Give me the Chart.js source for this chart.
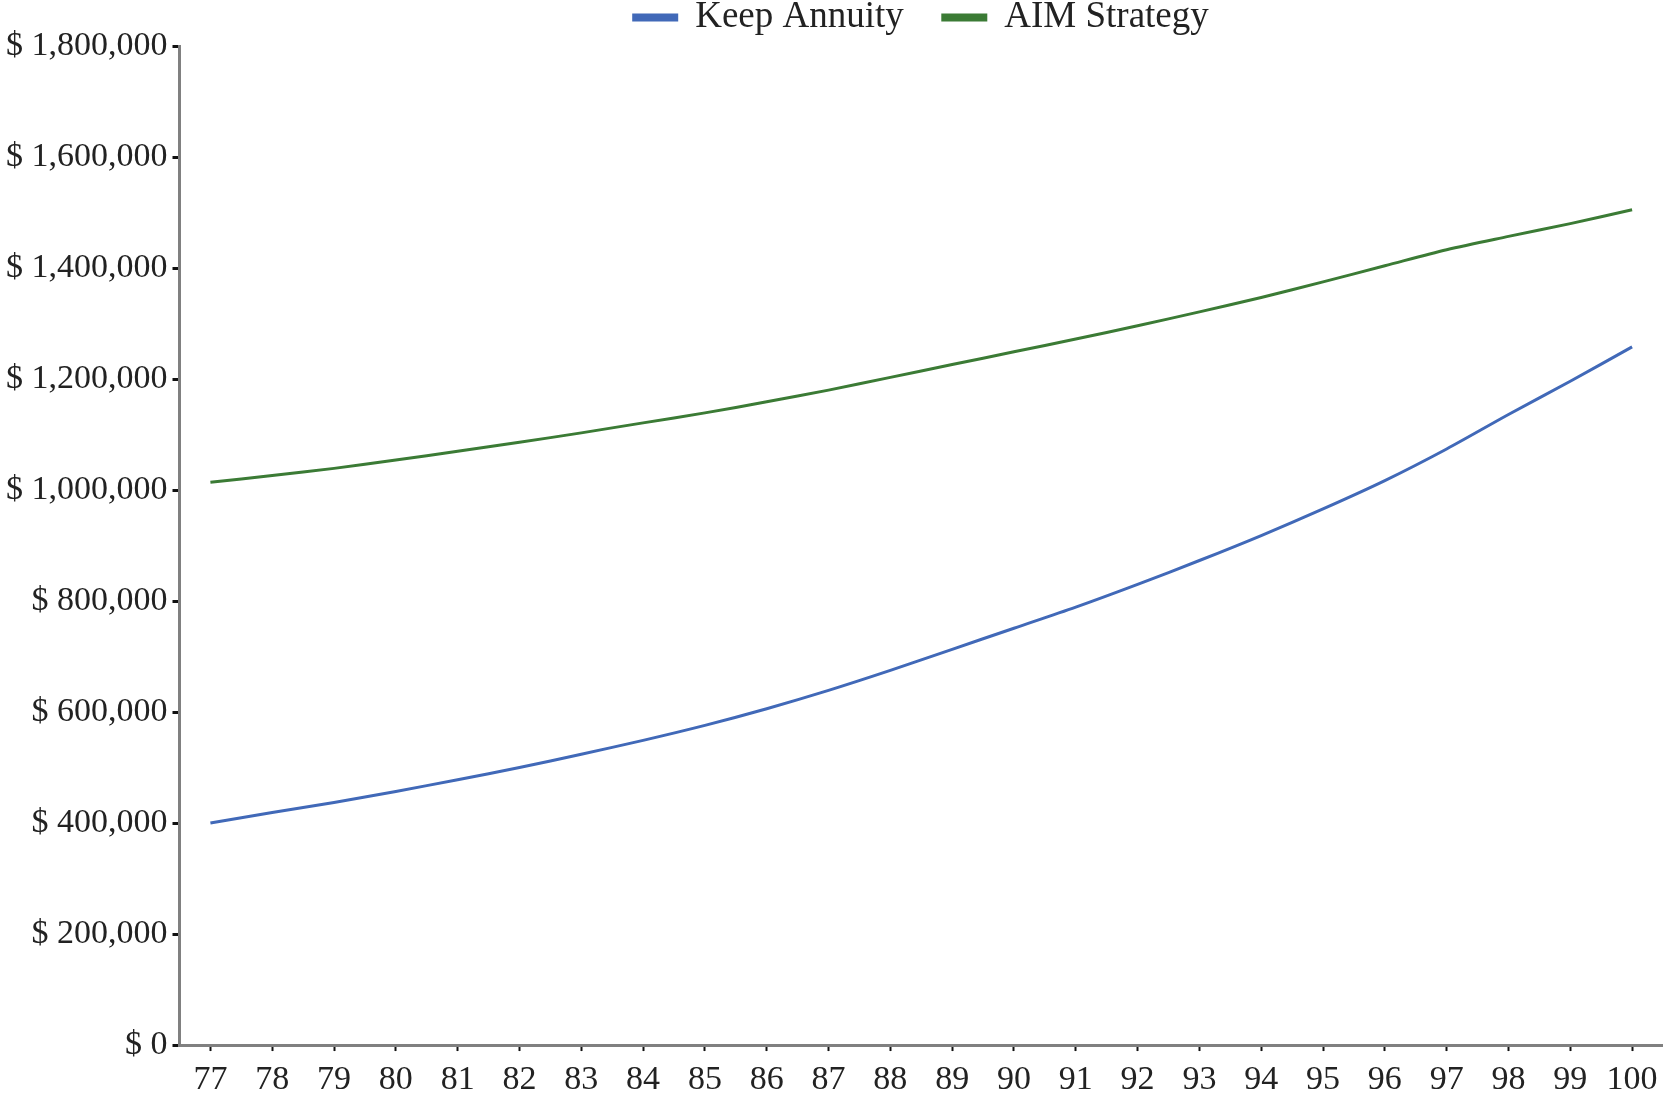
<!DOCTYPE html>
<html>
<head>
<meta charset="utf-8">
<script src="https://cdn.jsdelivr.net/npm/chart.js@4/dist/chart.umd.min.js"></script>
<style>
    html, body { margin: 0; padding: 0; background: #fff; }
    #wrap { position: relative; width: 1663px; height: 1095px; }
</style>
</head>
<body>
<div id="wrap"><canvas id="chart"></canvas></div>
<script>
let ages = ['77', '78', '79', '80', '81', '82', '83', '84', '85', '86', '87', '88',
    '89', '90', '91', '92', '93', '94', '95', '96', '97', '98', '99', '100'];

let keepAnnuity = [400000, 419000, 437000, 457000, 478000, 500000, 524000, 549000,
    576000, 606000, 639000, 675000, 713000, 751000, 789000, 830000, 873000, 918000,
    966000, 1017000, 1074000, 1136000, 1196000, 1258000];

let aimStrategy = [1014000, 1026000, 1039000, 1054000, 1070000, 1086000, 1103000, 1121000,
    1139000, 1159000, 1180000, 1203000, 1226000, 1249000, 1272000, 1296000, 1321000, 1347000,
    1375000, 1404000, 1433000, 1457000, 1480000, 1505000];

let yTicks = [0, 200000, 400000, 600000, 800000, 1000000, 1200000, 1400000, 1600000, 1800000];

let fontFamily = '"Liberation Serif", "DejaVu Serif", serif';

function money(v) {
    return '$ ' + v.toLocaleString('en-US');
}

let ctx = document.getElementById('chart').getContext('2d');
let chartInstance = new Chart(ctx, {
    type: 'line',
    data: {
        labels: ages,
        datasets: [{
            label: 'Keep Annuity',
            data: keepAnnuity,
            borderColor: '#4169b8',
            backgroundColor: '#4169b8',
            borderWidth: 3,
            pointRadius: 0,
            tension: 0.3
        }, {
            label: 'AIM Strategy',
            data: aimStrategy,
            borderColor: '#3b7b35',
            backgroundColor: '#3b7b35',
            borderWidth: 3,
            pointRadius: 0,
            tension: 0.3
        }]
    },
    options: {
        responsive: true,
        maintainAspectRatio: false,
        animation: false,
        // big legend padding gives the gap between items; negative paddings pull things to the edges
        layout: { padding: { top: -40, right: 0, bottom: -14, left: 1 } },
        plugins: {
            legend: {
                position: 'top',
                fullSize: false,
                labels: {
                    boxWidth: 43,
                    boxHeight: 5,
                    padding: 39,
                    color: '#222',
                    font: { family: fontFamily, size: 37, lineHeight: 1 }
                }
            },
            tooltip: { enabled: false }
        },
        scales: {
            x: {
                offset: true,
                grid: {
                    display: true,
                    drawOnChartArea: false,
                    drawTicks: true,
                    tickLength: 6,
                    tickWidth: 2,
                    color: '#111',
                    offset: false
                },
                border: { color: '#808080', width: 3 },
                ticks: {
                    color: '#222',
                    maxRotation: 0,
                    autoSkip: false,
                    padding: 5,
                    font: { family: fontFamily, size: 34, lineHeight: 1.41 }
                }
            },
            y: {
                min: 0,
                max: 1800000,
                afterBuildTicks: function(axis) {
                    axis.ticks = yTicks.map(function(v) { return { value: v }; });
                },
                grid: {
                    display: true,
                    drawOnChartArea: false,
                    drawTicks: true,
                    tickLength: 7,
                    tickWidth: 3,
                    color: '#111'
                },
                border: { color: '#808080', width: 3 },
                ticks: {
                    color: '#222',
                    padding: 5,
                    callback: function(v) { return money(v); },
                    font: { family: fontFamily, size: 34 }
                }
            }
        }
    }
});
</script>
</body>
</html>
